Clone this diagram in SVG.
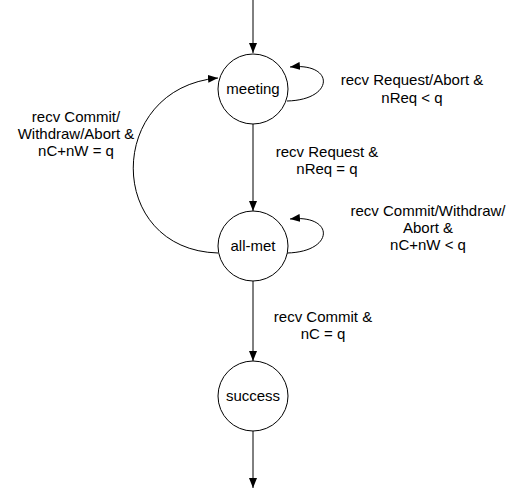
<svg xmlns="http://www.w3.org/2000/svg" width="519" height="489" viewBox="0 0 519 489">
<style>
.st{fill:#fff;stroke:#000;stroke-width:1}
.e{fill:none;stroke:#000;stroke-width:1}
text{font-family:"Liberation Sans",Arial,sans-serif;font-size:15px;fill:#000;text-anchor:middle}
</style>
<defs>
<marker id="ah" viewBox="0 0 10 8" refX="10" refY="4" markerWidth="10" markerHeight="8" markerUnits="userSpaceOnUse" orient="auto">
<path d="M0,0 L10,4 L0,8 Z" fill="#000"/>
</marker>
</defs>
<rect width="519" height="489" fill="#fff"/>
<g id="connectors">
<line class="e" x1="253" y1="0" x2="253" y2="53" marker-end="url(#ah)"/>
<line class="e" x1="253" y1="124" x2="253" y2="211" marker-end="url(#ah)"/>
<line class="e" x1="253" y1="281" x2="253" y2="361" marker-end="url(#ah)"/>
<line class="e" x1="253" y1="431" x2="253" y2="488" marker-end="url(#ah)"/>
<path class="e" d="M287,101 C335,100 335,62 290,67" marker-end="url(#ah)"/>
<path class="e" d="M287,253 C335,252 335,214 290,219" marker-end="url(#ah)"/>
<path class="e" d="M218,253 C105,250 105,88 218,78" marker-end="url(#ah)"/>
<text x="412" y="85">recv Request/Abort &amp;</text>
<text x="412" y="103">nReq &lt; q</text>
<text x="76" y="122">recv Commit/</text>
<text x="76" y="139">Withdraw/Abort &amp;</text>
<text x="76" y="156">nC+nW = q</text>
<text x="327" y="157">recv Request &amp;</text>
<text x="327" y="174">nReq = q</text>
<text x="428" y="216">recv Commit/Withdraw/</text>
<text x="428" y="233">Abort &amp;</text>
<text x="428" y="250">nC+nW &lt; q</text>
<text x="323" y="322">recv Commit &amp;</text>
<text x="323" y="339">nC = q</text>
</g>
<g id="meeting">
<circle class="st" cx="253" cy="89" r="35"/>
<text x="253" y="94">meeting</text>
</g>
<g id="all-met">
<circle class="st" cx="253" cy="246" r="35"/>
<text x="253" y="251">all-met</text>
</g>
<g id="success">
<circle class="st" cx="253" cy="396" r="35"/>
<text x="253" y="401">success</text>
</g>
</svg>
